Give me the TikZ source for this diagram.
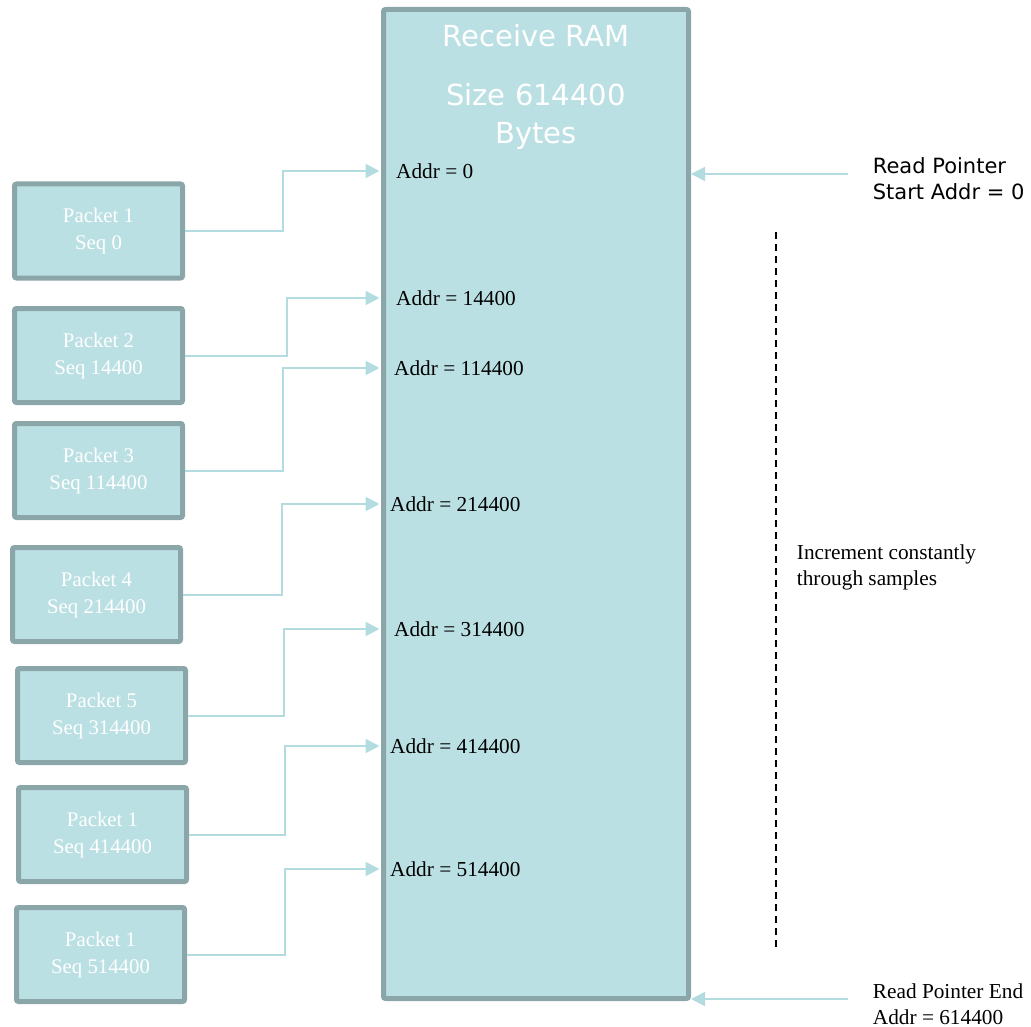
\documentclass[tikz,border=0pt]{standalone}
\usepackage{fontspec}
\setmainfont{Liberation Serif}
\newfontfamily\verd{DejaVu Sans}
\usetikzlibrary{arrows.meta}
\definecolor{cellfill}{HTML}{BBE0E3}
\definecolor{cellline}{HTML}{8BA6A9}
\definecolor{wire}{HTML}{B3DCE0}
\begin{document}
\begin{tikzpicture}[x=1pt,y=-1pt,
  box/.style={draw=cellline, fill=cellfill, line width=5pt, rounded corners=2pt, inner sep=0pt},
  packet/.style={box, minimum width=168pt, minimum height=94pt, text=white,
    font=\fontsize{20.8}{27}\selectfont, align=center},
  conn/.style={draw=wire, line width=2pt, -{Triangle[length=14pt,width=14pt]}},
  addr/.style={anchor=west, inner sep=0pt, font=\fontsize{21.3}{25}\selectfont},
  title/.style={anchor=base, inner sep=0pt, text=white, font=\verd\fontsize{29}{37}\selectfont},
  note/.style={anchor=north west, inner sep=0pt, align=left}]
\useasboundingbox (0,0) rectangle (1031,1027);

% receive buffer
\node[box, minimum width=305pt, minimum height=989pt] (ram) at (536,504) {};
\node[title] (t1) at (536,47) {Receive RAM};
\node[title] (t2) at (536,106) {Size 614400};
\node[title] (t3) at (536,144) {Bytes};

% incoming packets
\node[packet] (p1) at (98.5,231)   {Packet 1\\Seq 0};
\node[packet] (p2) at (98.5,355.5) {Packet 2\\Seq 14400};
\node[packet] (p3) at (98.5,470.5) {Packet 3\\Seq 114400};
\node[packet] (p4) at (96.5,594.5) {Packet 4\\Seq 214400};
\node[packet] (p5) at (101.5,715.5) {Packet 5\\Seq 314400};
\node[packet] (p6) at (102.5,834.5) {Packet 1\\Seq 414400};
\node[packet] (p7) at (100.5,954.5) {Packet 1\\Seq 514400};

% write addresses inside the buffer
\node[addr] (a1) at (396,171) {Addr = 0};
\node[addr] (a2) at (396,298) {Addr = 14400};
\node[addr] (a3) at (394,368) {Addr = 114400};
\node[addr] (a4) at (390,504) {Addr = 214400};
\node[addr] (a5) at (394,629) {Addr = 314400};
\node[addr] (a6) at (390,746) {Addr = 414400};
\node[addr] (a7) at (390,869) {Addr = 514400};

% packet -> address connectors
\draw[conn, shorten >=1.5pt] (p1.east) -- (283,0 |- p1.east) |- (ram.west |- a1.west);
\draw[conn, shorten >=1.5pt] (p2.east) -- (287,0 |- p2.east) |- (ram.west |- a2.west);
\draw[conn, shorten >=1.5pt] (p3.east) -- (283,0 |- p3.east) |- (ram.west |- a3.west);
\draw[conn, shorten >=1.5pt] (p4.east) -- (282,0 |- p4.east) |- (ram.west |- a4.west);
\draw[conn, shorten >=1.5pt] (p5.east) -- (284,0 |- p5.east) |- (ram.west |- a5.west);
\draw[conn, shorten >=1.5pt] (p6.east) -- (285,0 |- p6.east) |- (ram.west |- a6.west);
\draw[conn, shorten >=1.5pt] (p7.east) -- (285,0 |- p7.east) |- (ram.west |- a7.west);

% read pointer
\node[note, font=\verd\fontsize{21}{26}\selectfont] (rs) at (872.7,157.5) {Read Pointer\\Start Addr = 0};
\coordinate (rsfrom) at (848,174);
\draw[conn] (rsfrom) -- (ram.east |- rsfrom);

\node[note, font=\fontsize{21.3}{26}\selectfont] (re) at (872.7,983.5) {Read Pointer End\\Addr = 614400};
\coordinate (refrom) at (848,999);
\draw[conn] (refrom) -- (ram.east |- refrom);

% read progression
\coordinate (dtop) at (776,232);
\coordinate (dbot) at (776,947);
\draw[line width=1.5pt, dash pattern=on 7pt off 5pt] (dtop) -- (dbot);
\node[note, font=\fontsize{21.3}{26}\selectfont] (inc) at (796.7,544.8) {Increment constantly\\through samples};
\end{tikzpicture}
\end{document}
